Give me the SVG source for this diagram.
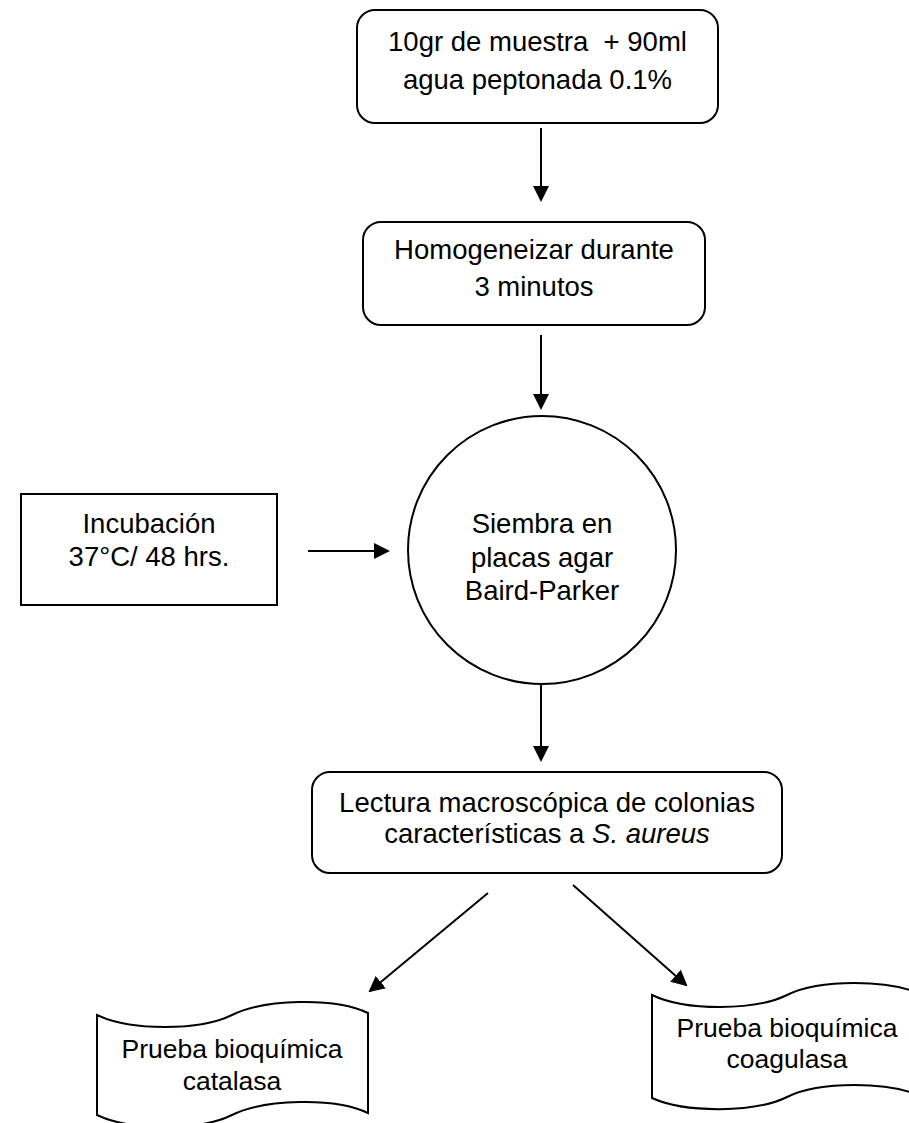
<svg xmlns="http://www.w3.org/2000/svg" width="909" height="1123" viewBox="0 0 909 1123">
<style>
.s{fill:#fff;stroke:#000;stroke-width:2}
.t{font-family:"Liberation Sans",Arial,sans-serif;font-size:27.5px;fill:#000;text-anchor:middle;white-space:pre}
.tt{font-family:"Liberation Sans",Arial,sans-serif;font-size:26.5px;fill:#000;text-anchor:middle}
.c{stroke:#000;stroke-width:2;fill:none;marker-end:url(#ah)}
</style>
<defs>
<marker id="ah" markerWidth="8" markerHeight="8" refX="7" refY="4" orient="auto" markerUnits="strokeWidth">
<path d="M0,0 L8,4 L0,8 z" fill="#000"/>
</marker>
</defs>
<rect width="909" height="1123" fill="#fff"/>
<g id="connectors">
<line class="c" x1="541" y1="128" x2="541" y2="200"/>
<line class="c" x1="541" y1="335" x2="541" y2="408"/>
<line class="c" x1="308" y1="551" x2="388" y2="551"/>
<line class="c" x1="541" y1="685" x2="541" y2="760"/>
<line class="c" x1="488" y1="893" x2="370" y2="991"/>
<line class="c" x1="573" y1="885" x2="686" y2="985"/>
</g>
<g id="n1">
<rect class="s" x="357" y="10" width="361" height="113" rx="18"/>
<text class="t" x="537.5" y="51">10gr de muestra  + 90ml</text>
<text class="t" x="537.5" y="89">agua peptonada 0.1%</text>
</g>
<g id="n2">
<rect class="s" x="363" y="222" width="342" height="103" rx="18"/>
<text class="t" x="534" y="259">Homogeneizar durante</text>
<text class="t" x="534" y="296">3 minutos</text>
</g>
<g id="n3">
<rect class="s" x="21" y="494" width="256" height="111"/>
<text class="t" x="149" y="533">Incubación</text>
<text class="t" x="149" y="566">37°C/ 48 hrs.</text>
</g>
<g id="n4">
<circle class="s" cx="542" cy="550" r="134"/>
<text class="t" x="542" y="533">Siembra en</text>
<text class="t" x="542" y="567">placas agar</text>
<text class="t" x="542" y="600">Baird-Parker</text>
</g>
<g id="n5">
<rect class="s" x="312" y="772" width="470" height="101" rx="18"/>
<text class="t" x="547" y="812">Lectura macroscópica de colonias</text>
<text class="t" x="547" y="843">características a <tspan font-style="italic">S. aureus</tspan></text>
</g>
<g id="n6">
<path class="s" d="M97,1015 C130,1031 200,1031 232,1015 C264,999 335,997 368,1013 L368,1113 C335,1097 264,1099 232,1115 C200,1131 130,1131 97,1115 Z"/>
<text class="tt" x="232" y="1058">Prueba bioquímica</text>
<text class="tt" x="232" y="1090">catalasa</text>
</g>
<g id="n7">
<path class="s" d="M652,995 C685,1011 755,1011 787,995 C819,979 890,979 922,995 L922,1097 C890,1081 819,1081 787,1097 C755,1113 685,1113 652,1098 Z"/>
<text class="tt" x="787" y="1037">Prueba bioquímica</text>
<text class="tt" x="787" y="1068">coagulasa</text>
</g>
</svg>
